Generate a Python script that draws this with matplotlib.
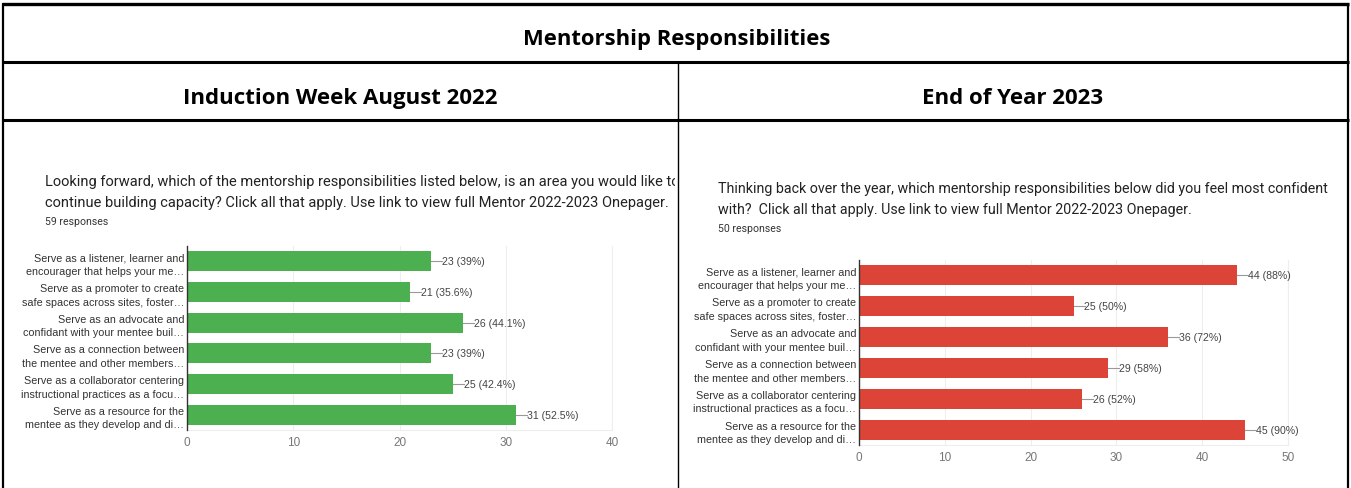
import matplotlib
matplotlib.use("Agg")
import matplotlib.pyplot as plt
from matplotlib.lines import Line2D
from matplotlib.transforms import Bbox

W, H = 1351, 489

title = "Mentorship Responsibilities"
col_titles = ["Induction Week August 2022", "End of Year 2023"]

categories = [
    "Serve as a listener, learner and\nencourager that helps your me\u2026",
    "Serve as a promoter to create\nsafe spaces across sites, foster\u2026",
    "Serve as an advocate and\nconfidant with your mentee buil\u2026",
    "Serve as a connection between\nthe mentee and other members\u2026",
    "Serve as a collaborator centering\ninstructional practices as a focu\u2026",
    "Serve as a resource for the\nmentee as they develop and di\u2026",
]

induction_counts = [23, 21, 26, 23, 25, 31]
induction_pcts = ["39%", "35.6%", "44.1%", "39%", "42.4%", "52.5%"]
induction_question = [
    "Looking forward, which of the mentorship responsibilities listed below, is an area you would like to",
    "continue building capacity? Click all that apply. Use link to view full Mentor 2022-2023 Onepager.",
]
induction_n = "59 responses"

eoy_counts = [44, 25, 36, 29, 26, 45]
eoy_pcts = ["88%", "50%", "72%", "58%", "52%", "90%"]
eoy_question = [
    "Thinking back over the year, which mentorship responsibilities below did you feel most confident",
    "with?  Click all that apply. Use link to view full Mentor 2022-2023 Onepager.",
]
eoy_n = "50 responses"


def fx(x):
    return x / W


def fy(y):
    return 1 - y / H


fig = plt.figure(figsize=(W / 100, H / 100), dpi=100)
fig.patch.set_facecolor("white")


# table borders
def hline(y, x0, x1, lw):
    fig.add_artist(Line2D([fx(x0), fx(x1)], [fy(y), fy(y)], color="black", lw=lw,
                          solid_capstyle="butt"))


def vline(x, y0, y1, lw):
    fig.add_artist(Line2D([fx(x), fx(x)], [fy(y0), fy(y1)], color="black", lw=lw,
                          solid_capstyle="butt"))


hline(5, 2, 1349, 2.4)
hline(63, 2, 1349, 2.2)
hline(121, 2, 1349, 2.2)
vline(3, 4, 489, 1.6)
vline(1348, 4, 489, 1.6)
vline(678, 63, 489, 1.0)

head_font = "Open Sans"
fig.text(fx(677), fy(40), title, ha="center", va="center", fontsize=15.8,
         fontweight="bold", family=head_font)
fig.text(fx(340), fy(99), col_titles[0], ha="center", va="center", fontsize=16,
         fontweight="bold", family=head_font)
fig.text(fx(1013), fy(99), col_titles[1], ha="center", va="center", fontsize=16,
         fontweight="bold", family=head_font)

txt_font = ["Roboto", "DejaVu Sans"]
lbl_font = ["Liberation Sans", "DejaVu Sans"]


def panel(q, n, qx, qy, qsize, clip_x0, clip_x1, box, counts, pcts, xmax, color):
    for k, line in enumerate(q):
        t = fig.text(fx(qx), fy(qy + 21 * k), line, ha="left", va="center",
                     fontsize=qsize, color="#222222", family=txt_font)
        t.set_clip_box(Bbox([[clip_x0, 0], [clip_x1, H]]))
        t.set_clip_on(True)
    fig.text(fx(qx), fy(qy + 40), n, ha="left", va="center", fontsize=7.6,
             color="#333333", family=txt_font)

    x0, x1, y0, y1 = box
    ax = fig.add_axes([fx(x0), fy(y1), fx(x1) - fx(x0), (y1 - y0) / H])
    pos = list(range(len(categories)))
    ax.barh(pos, counts, height=0.65, color=color, zorder=3)
    ax.set_ylim(5.5, -0.5)
    ax.set_xlim(0, xmax)
    ax.set_xticks(range(0, xmax + 1, 10))
    ax.set_yticks(pos)
    ax.set_yticklabels(categories, fontsize=7.75, color="#333333", family=lbl_font,
                       linespacing=1.45)
    ax.tick_params(axis="y", length=0, pad=2)
    ax.tick_params(axis="x", length=0, pad=4, labelsize=8.5, labelcolor="#777777")
    for lab in ax.get_xticklabels():
        lab.set_family(lbl_font)
    ax.grid(axis="x", color="#eeeeee", lw=0.8, zorder=0)
    ax.spines["top"].set_visible(False)
    ax.spines["right"].set_color("#eeeeee")
    ax.spines["bottom"].set_color("#eeeeee")
    ax.spines["left"].set_color("#333333")
    ax.spines["left"].set_linewidth(1.0)
    ax.spines["left"].set_zorder(4)
    step = xmax / (x1 - x0)
    for i, (c, p) in enumerate(zip(counts, pcts)):
        ax.plot([c, c + 11 * step], [i, i], color="#999999", lw=0.8, zorder=4, clip_on=False)
        ax.text(c + 11 * step, i, f"{c} ({p})", ha="left", va="center", fontsize=7.6,
                color="#444444", family=lbl_font)
    return ax


panel(induction_question, induction_n, 45, 182, 10.5, 0, 675, (187, 612, 247, 431),
      induction_counts, induction_pcts, 40, "#4caf50")
panel(eoy_question, eoy_n, 718, 189, 10.3, 680, 1345, (859, 1288, 261, 446),
      eoy_counts, eoy_pcts, 50, "#db4437")

fig.savefig("out.png", dpi=100, facecolor="white")
